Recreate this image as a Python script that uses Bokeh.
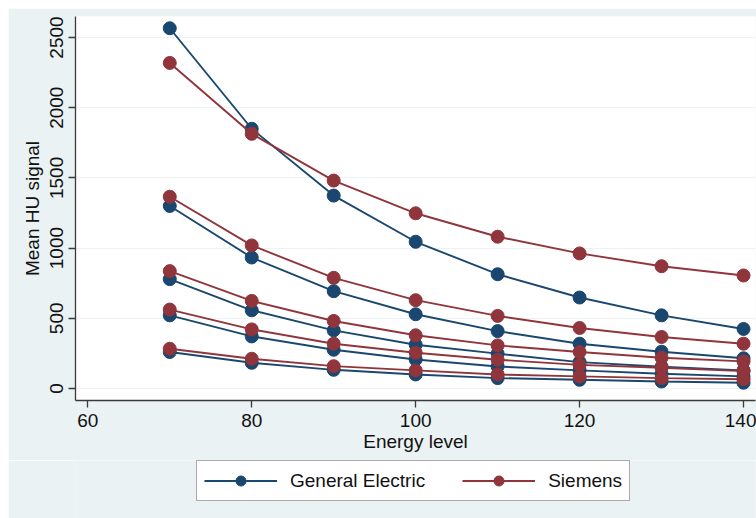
from bokeh.plotting import figure
from bokeh.models import Range1d, Legend, LegendItem, FixedTicker, Spacer
from bokeh.layouts import column, row
from bokeh.embed import file_html
from bokeh.resources import INLINE

# Data
energy = [70, 80, 90, 100, 110, 120, 130, 140]

ge_1 = [2566, 1850, 1374, 1045, 814, 648, 521, 424]
ge_2 = [1300, 933, 693, 529, 409, 319, 262, 215]
ge_3 = [779, 557, 414, 312, 248, 188, 155, 129]
ge_4 = [521, 371, 276, 207, 157, 129, 105, 86]
ge_5 = [260, 183, 133, 100, 74, 62, 50, 41]

siemens_1 = [2319, 1814, 1481, 1248, 1081, 962, 871, 805]
siemens_2 = [1366, 1019, 788, 629, 517, 431, 367, 319]
siemens_3 = [836, 624, 481, 379, 307, 260, 219, 193]
siemens_4 = [562, 421, 319, 255, 205, 168, 148, 124]
siemens_5 = [283, 212, 159, 129, 100, 86, 74, 66]

x_ticks = [60, 80, 100, 120, 140]
y_ticks = [0, 500, 1000, 1500, 2000, 2500]
legend_labels = ["General Electric", "Siemens"]

GE_COLOR = "#1a476f"
SIE_COLOR = "#90353b"
BG = "#eaf2f3"
FONT = "Liberation Sans"

p = figure(width=748, height=452,
           x_range=Range1d(58.5, 141.46), y_range=Range1d(-85.5, 2649.6),
           output_backend="svg", toolbar_location=None,
           min_border_left=67, min_border_right=1,
           min_border_top=8, min_border_bottom=60)

p.background_fill_color = "white"
p.border_fill_color = BG
p.outline_line_color = None

# grid
p.xgrid.grid_line_color = None
p.ygrid.grid_line_color = BG
p.ygrid.grid_line_width = 1.2
p.ygrid.ticker = FixedTicker(ticks=y_ticks)

# axes
for ax in (p.xaxis[0], p.yaxis[0]):
    ax.axis_line_color = "#3a3a3a"
    ax.axis_line_width = 1.3
    ax.major_tick_line_color = "#3a3a3a"
    ax.major_tick_line_width = 1.3
    ax.major_tick_out = 7
    ax.major_tick_in = 0
    ax.minor_tick_line_color = None
    ax.major_label_text_font = FONT
    ax.major_label_text_font_size = "19px"
    ax.major_label_text_color = "#111111"
    ax.axis_label_text_font = FONT
    ax.axis_label_text_font_size = "19px"
    ax.axis_label_text_font_style = "normal"
    ax.axis_label_text_color = "#111111"

p.xaxis.ticker = FixedTicker(ticks=x_ticks)
p.yaxis.ticker = FixedTicker(ticks=y_ticks)
p.yaxis.major_label_orientation = "vertical"
p.xaxis.axis_label = "Energy level"
p.yaxis.axis_label = "Mean HU signal"
p.xaxis.major_label_standoff = 6
p.xaxis.axis_label_standoff = 1
p.yaxis.major_label_standoff = 5
p.yaxis.axis_label_standoff = 5

ge_series = [ge_1, ge_2, ge_3, ge_4, ge_5]
sie_series = [siemens_1, siemens_2, siemens_3, siemens_4, siemens_5]

for ys in ge_series:
    p.line(energy, ys, line_color=GE_COLOR, line_width=1.9)
    p.scatter(energy, ys, size=13, fill_color=GE_COLOR, line_color=GE_COLOR)
for ys in sie_series:
    p.line(energy, ys, line_color=SIE_COLOR, line_width=1.9)
    p.scatter(energy, ys, size=13, fill_color=SIE_COLOR, line_color=SIE_COLOR)

# legend strip below the plot (separate canvas so it is not clipped);
# its glyph renderers hold the first series but lie outside this strip's ranges
q = figure(width=748, height=58, x_range=Range1d(0, 1), y_range=Range1d(0, 1),
           output_backend="svg", toolbar_location=None,
           min_border_left=67, min_border_right=1, min_border_top=0, min_border_bottom=0)
q.axis.visible = False
q.grid.visible = False
q.outline_line_color = None
q.background_fill_color = BG
q.border_fill_color = BG

items = []
for lab, col, ys in zip(legend_labels, [GE_COLOR, SIE_COLOR], [ge_1, siemens_1]):
    lr = q.line(energy, ys, line_color=col, line_width=1.9)
    sr = q.scatter(energy, ys, size=13, fill_color=col, line_color=col)
    items.append(LegendItem(label=lab, renderers=[lr, sr]))

legend = Legend(items=items, location=(121, 17), orientation="horizontal")
legend.glyph_width = 73
legend.glyph_height = 25
legend.label_height = 25
legend.label_standoff = 13
legend.spacing = 37
legend.padding = 7
legend.margin = 0
legend.label_text_font = FONT
legend.label_text_font_size = "19px"
legend.label_text_color = "#111111"
legend.border_line_color = "#555555"
legend.border_line_width = 1.5
legend.background_fill_color = "white"
legend.background_fill_alpha = 1.0
q.add_layout(legend, "center")

page = column(Spacer(height=8, width=8),
              row(Spacer(width=8, height=8), column(p, q)))

open("out.html", "w").write(file_html(page, INLINE))
